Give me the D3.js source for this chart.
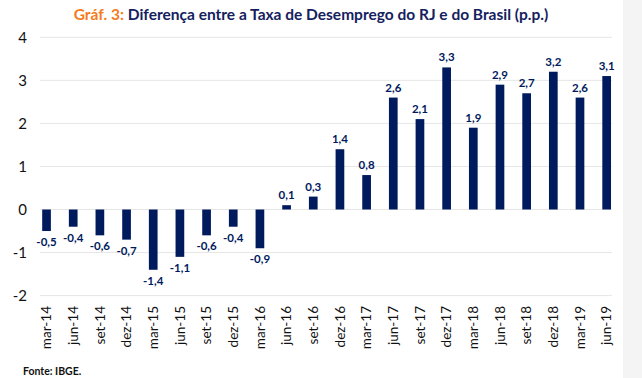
<!DOCTYPE html>
<html>
<head>
<meta charset="utf-8">
<script src="https://cdn.jsdelivr.net/npm/d3@7/dist/d3.min.js"></script>
<style>
  html, body { margin: 0; padding: 0; background: #ffffff; }
  svg { display: block; }
</style>
</head>
<body>
<svg id="chart" width="642" height="378"></svg>
<script>
const categories = ["mar-14","jun-14","set-14","dez-14","mar-15","jun-15","set-15","dez-15","mar-16","jun-16","set-16","dez-16","mar-17","jun-17","set-17","dez-17","mar-18","jun-18","set-18","dez-18","mar-19","jun-19"];
const values = [-0.5,-0.4,-0.6,-0.7,-1.4,-1.1,-0.6,-0.4,-0.9,0.1,0.3,1.4,0.8,2.6,2.1,3.3,1.9,2.9,2.7,3.2,2.6,3.1];
const yTicks = [-2,-1,0,1,2,3,4];
const titlePrefix = "Gráf. 3:";
const titleMain = " Diferença entre a Taxa de Desemprego do RJ e do Brasil (p.p.)";
const sourceText = "Fonte: IBGE.";

const FONT = "Lato, 'Open Sans', 'DejaVu Sans', sans-serif";
const NAVY = "#001a5e";
const svg = d3.select("#chart");

// right gray panel
svg.append("rect").attr("x", 623).attr("y", 0).attr("width", 19).attr("height", 378).attr("fill", "#f4f4f4");

const x = d3.scaleBand().domain(categories).range([33.2, 620]).paddingInner(0.674).paddingOuter(0.337);
const y = d3.scaleLinear().domain([-2, 4]).range([295.6, 37.3]);

// gridlines
svg.append("g").selectAll("line").data(yTicks).join("line")
  .attr("x1", 40).attr("x2", 612)
  .attr("y1", d => y(d)).attr("y2", d => y(d))
  .attr("stroke", "#e6e6e6").attr("stroke-width", 1);

// y axis labels
const yAxis = d3.axisLeft(y).tickValues(yTicks).tickSize(0).tickPadding(0).tickFormat(d => String(d));
const gy = svg.append("g").attr("transform", "translate(27,0)").call(yAxis);
gy.select(".domain").remove();
gy.selectAll("text").attr("font-family", FONT).attr("font-size", 15).attr("fill", "#111").attr("dy", "0.35em");

// bars
svg.append("g").selectAll("rect").data(values).join("rect")
  .attr("x", (d, i) => x(categories[i]))
  .attr("width", x.bandwidth())
  .attr("y", d => Math.min(y(d), y(0)))
  .attr("height", d => Math.abs(y(d) - y(0)))
  .attr("fill", NAVY);

// value labels
const fmt = v => v.toFixed(1).replace(".", ",");
svg.append("g").selectAll("text").data(values).join("text")
  .attr("x", (d, i) => x(categories[i]) + x.bandwidth() / 2)
  .attr("y", d => d >= 0 ? y(d) - 6 : y(d) + 15)
  .attr("text-anchor", "middle")
  .attr("font-family", FONT).attr("font-weight", "bold").attr("font-size", 11.5)
  .attr("fill", NAVY)
  .text(d => fmt(d));

// x axis labels (rotated)
const xAxis = d3.axisBottom(x).tickSize(0).tickPadding(0);
const gx = svg.append("g").attr("transform", "translate(0,306)").call(xAxis);
gx.select(".domain").remove();
gx.selectAll("text")
  .attr("font-family", FONT).attr("font-size", 13.5).attr("fill", "#111")
  .attr("transform", "rotate(-90)")
  .attr("text-anchor", "end")
  .attr("x", 0).attr("y", 0).attr("dy", "0.35em");

// title
const title = svg.append("text")
  .attr("x", 311).attr("y", 20)
  .attr("text-anchor", "middle")
  .attr("font-family", FONT).attr("font-weight", "bold").attr("font-size", 15.5);
title.append("tspan").attr("fill", "#f47b20").text(titlePrefix);
title.append("tspan").attr("fill", "#14215e").text(titleMain);

// source
svg.append("text").attr("x", 23).attr("y", 375)
  .attr("font-family", FONT).attr("font-weight", "bold").attr("font-size", 10.5)
  .attr("fill", "#111").text(sourceText);
</script>
</body>
</html>
